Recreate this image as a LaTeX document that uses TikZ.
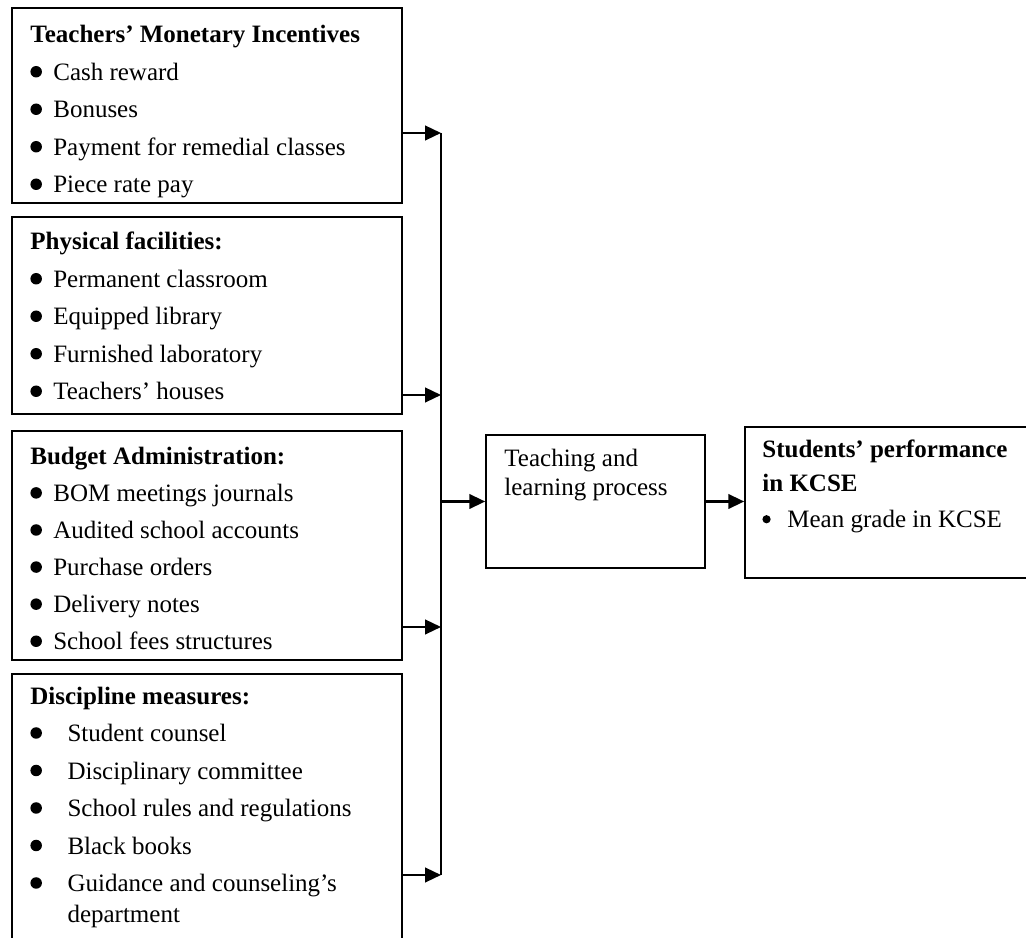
\documentclass[tikz,border=0pt]{standalone}
\usepackage{fontspec}
\setmainfont{Liberation Serif}
\usetikzlibrary{positioning,fit,arrows.meta}
\newcommand\bul[1][0.23em]{\tikz[baseline=0pt]\fill (#1,0.35em) circle[radius=#1];}
\newcommand\itm[2][0.23em]{\makebox[#2][l]{\bul[#1]}}
\tikzset{
	panel/.style={draw=black,line width=0.8pt,inner sep=0pt},
	bus/.style={draw=black,line width=1pt},
	flow/.style={draw=black,line width=1pt,-{Triangle[length=7.6pt,width=7pt]}},
	listtext/.style={anchor=base west,inner sep=0pt,align=left,font=\fontsize{12}{18}\selectfont},
}
\begin{document}
\begin{tikzpicture}[x=0.48pt,y=-0.48pt]
	\useasboundingbox (0,0) rectangle (1026,938);
	\clip (0,0) rectangle (1026,938);
	% boxes
	\node[panel,fit={(12,8) (402,203)}] (incent) {};
	\node[panel,fit={(12,217) (402,414)}] (facil) {};
	\node[panel,fit={(12,431) (402,660)}] (budget) {};
	\node[panel,fit={(12,674) (402,950)}] (discip) {};
	\node[panel,fit={(486,435) (705,568)}] (teach) {};
	\node[panel,fit={(745,427) (1040,578)}] (perf) {};
	% texts (placed by the baseline of their last line)
	\node[listtext] (incenttxt) at (30,193) {\textbf{Teachers' Monetary Incentives}\\
		\itm{11pt}Cash reward\\
		\itm{11pt}Bonuses\\
		\itm{11pt}Payment for remedial classes\\
		\itm{11pt}Piece rate pay};
	\node[listtext] (faciltxt) at (30,400) {\textbf{Physical facilities:}\\
		\itm{11pt}Permanent classroom\\
		\itm{11pt}Equipped library\\
		\itm{11pt}Furnished laboratory\\
		\itm{11pt}Teachers' houses};
	\node[listtext,font=\fontsize{12}{17.8}\selectfont] (budgettxt) at (30,650) {\textbf{Budget Administration:}\\
		\itm{11pt}BOM meetings journals\\
		\itm{11pt}Audited school accounts\\
		\itm{11pt}Purchase orders\\
		\itm{11pt}Delivery notes\\
		\itm{11pt}School fees structures};
	\node[listtext] (disciptxt) at (30,923) {\textbf{Discipline measures:}\\
		\itm{17.8pt}Student counsel\\
		\itm{17.8pt}Disciplinary committee\\
		\itm{17.8pt}School rules and regulations\\
		\itm{17.8pt}Black books\\
		\itm{17.8pt}Guidance and counseling's\\[-3pt]
		\hspace*{17.8pt}department};
	\node[listtext,font=\fontsize{12}{14}\selectfont] (teachtxt) at (504,496) {Teaching and\\learning process};
	\node[listtext,font=\fontsize{12}{16.5}\selectfont] (perftxt) at (762,528) {\textbf{Students' performance}\\
		\textbf{in KCSE}\\[0.8pt]
		\itm[0.165em]{12pt}Mean grade in KCSE};
	% connectors
	\coordinate (bus1) at (441,133);
	\coordinate (bus2) at (441,395);
	\coordinate (bus3) at (441,627);
	\coordinate (bus4) at (441,875);
	\draw[bus] (bus1)--(bus4);
	\foreach \b/\c in {incent/bus1,facil/bus2,budget/bus3,discip/bus4}
	\draw[flow] (\b.east |- \c)--(\c);
	\draw[flow] (bus1 |- teach.west)--(teach.west);
	\draw[flow] (teach.east)--(teach.east -| perf.west);
\end{tikzpicture}
\end{document}
